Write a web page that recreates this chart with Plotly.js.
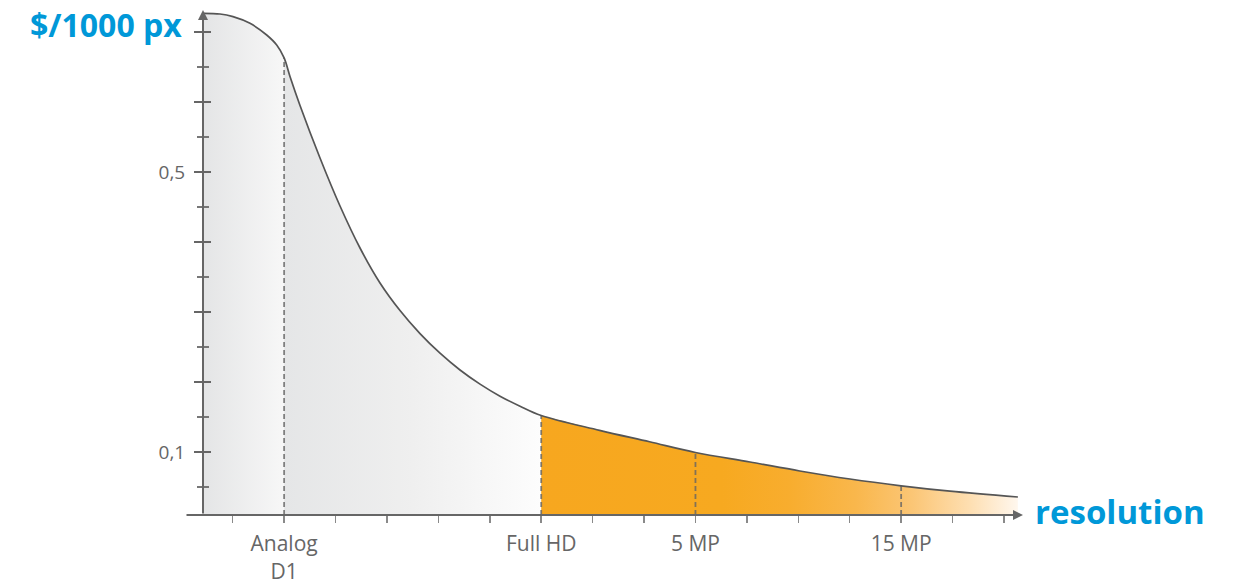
<!DOCTYPE html>
<html>
<head>
<meta charset="utf-8">
<script src="https://cdn.plot.ly/plotly-3.0.1.min.js"></script>
<style>
html,body{margin:0;padding:0;background:#fff;}
#chart{width:1237px;height:584px;}
</style>
</head>
<body>
<div id="chart"></div>
<script>
// ---- data ----
const curveX = [0.43, 0.753, 1.006, 1.336, 1.661, 1.856, 2, 2.114, 2.309, 2.698, 3.087, 3.476, 3.865, 4.254, 4.643, 5.032, 5.421, 5.81, 6.199, 6.588, 7, 8.135, 9.107, 10, 11.06, 12.03, 13.005, 14, 14.95, 16.27];
const curveY = [0.7267, 0.7257, 0.7219, 0.7124, 0.6957, 0.6814, 0.6629, 0.6364, 0.5950, 0.5200, 0.4514, 0.3914, 0.3414, 0.3020, 0.2691, 0.2411, 0.2171, 0.1969, 0.1797, 0.1654, 0.1521, 0.1310, 0.1146, 0.0993, 0.0857, 0.0729, 0.0614, 0.0517, 0.0440, 0.0357];

const xTickVals = [1, 2, 3, 4, 5, 6, 7, 8, 9, 10, 11, 12, 13, 14, 15, 16];
const xTickText = ["", "Analog<br>D1", "", "", "", "", "Full HD", "", "", "5 MP", "", "", "", "15 MP", "", ""];
const markerX = [2, 7, 10, 14];

const yMajorVals = [0.1, 0.2, 0.3, 0.4, 0.5, 0.6, 0.7];
const yMajorText = ["0,1", "", "", "", "0,5", "", ""];
const yMinorVals = [0.05, 0.15, 0.25, 0.35, 0.45, 0.55, 0.65];

const segmentBounds = [[0.43, 2], [2, 7], [7, 16.27]];
const segmentColors = [
  [[0, '#e4e5e6'], [1, '#f7f7f7']],
  [[0, '#e5e6e7'], [0.5, '#efefef'], [1, '#fdfdfd']],
  [[0, '#f7a71f'], [0.38, '#f7a920'], [0.52, '#f8ad2e'], [0.66, '#f9b74c'], [0.78, '#fbc676'], [0.9, '#fedfb2'], [1, '#fff7ee']]
];

const xRange = [0.4224, 16.37];
const yRange = [0.01, 0.7314];

// ---- traces ----
const traces = [];
segmentBounds.forEach((b, i) => {
  const xs = [], ys = [];
  curveX.forEach((x, k) => { if (x >= b[0] && x <= b[1]) { xs.push(x); ys.push(curveY[k]); } });
  traces.push({
    type: 'scatter', mode: 'lines', x: xs, y: ys,
    line: {width: 0, shape: 'spline', smoothing: 1},
    fill: 'tozeroy',
    fillgradient: {type: 'horizontal', colorscale: segmentColors[i]},
    hoverinfo: 'skip', showlegend: false
  });
});
markerX.forEach(mx => {
  const yv = curveY[curveX.indexOf(mx)];
  traces.push({
    type: 'scatter', mode: 'lines', x: [mx, mx], y: [yRange[0], yv],
    line: {color: 'rgba(100,100,100,0.8)', width: 1.8, dash: '5px,3px'},
    hoverinfo: 'skip', showlegend: false
  });
});
traces.push({
  type: 'scatter', mode: 'lines', x: curveX, y: curveY, yaxis: 'y2',
  line: {color: '#555555', width: 1.7, shape: 'spline', smoothing: 1},
  hoverinfo: 'skip', showlegend: false
});

const axisCol = '#666666';
const yCommon = {
  range: yRange, tickmode: 'array', tickvals: yMajorVals,
  ticklen: 8, tickwidth: 2.5, tickcolor: axisCol,
  showgrid: false, zeroline: false, showline: false, fixedrange: true
};

const layout = {
  width: 1237, height: 584,
  margin: {l: 203, r: 214, t: 10, b: 69},
  paper_bgcolor: '#ffffff', plot_bgcolor: 'rgba(0,0,0,0)',
  font: {family: 'Open Sans, sans-serif', color: '#666666'},
  showlegend: false,
  xaxis: {
    range: xRange, tickmode: 'array', tickvals: xTickVals, ticktext: xTickText,
    ticks: 'outside', ticklen: 7, tickwidth: 1.5, tickcolor: '#8a8a8a',
    tickfont: {size: 21, color: '#666666'}, ticklabelstandoff: 3,
    showgrid: false, zeroline: false, showline: false, fixedrange: true
  },
  yaxis: Object.assign({}, yCommon, {
    ticks: 'outside', ticktext: yMajorText, showticklabels: true,
    tickfont: {size: 19, color: '#666666'}, ticklabelstandoff: 5,
    minor: {tickmode: 'array', tickvals: yMinorVals, ticks: 'outside', ticklen: 5.5, tickwidth: 1.2, tickcolor: '#777777'}
  }),
  yaxis2: Object.assign({}, yCommon, {
    overlaying: 'y', side: 'left', ticks: 'inside', showticklabels: false,
    minor: {tickmode: 'array', tickvals: yMinorVals, ticks: 'inside', ticklen: 5.5, tickwidth: 1.2, tickcolor: '#777777'}
  }),
  annotations: [
    {xref: 'paper', yref: 'paper', x: 0, y: 1, ax: 0, ay: 505, axref: 'pixel', ayref: 'pixel',
     text: '', showarrow: true, arrowhead: 2, arrowsize: 1, arrowwidth: 2, arrowcolor: axisCol},
    {xref: 'paper', yref: 'paper', x: 1, y: 0, ax: -838, ay: 0, axref: 'pixel', ayref: 'pixel',
     text: '', showarrow: true, arrowhead: 2, arrowsize: 1, arrowwidth: 2, arrowcolor: axisCol},
    {xref: 'paper', yref: 'paper', x: 0, y: 1, xanchor: 'right', yanchor: 'middle', xshift: -19, yshift: -14,
     text: '<b>$/1000 px</b>', showarrow: false, font: {family: 'Open Sans, sans-serif', size: 32, color: '#0098d8'}},
    {xref: 'paper', yref: 'paper', x: 1, y: 0, xanchor: 'left', yanchor: 'middle', xshift: 10, yshift: 4,
     text: '<b>resolution</b>', showarrow: false, font: {family: 'Open Sans, sans-serif', size: 33, color: '#0098d8'}}
  ]
};

Plotly.newPlot('chart', traces, layout, {displayModeBar: false, staticPlot: true});
</script>
</body>
</html>
